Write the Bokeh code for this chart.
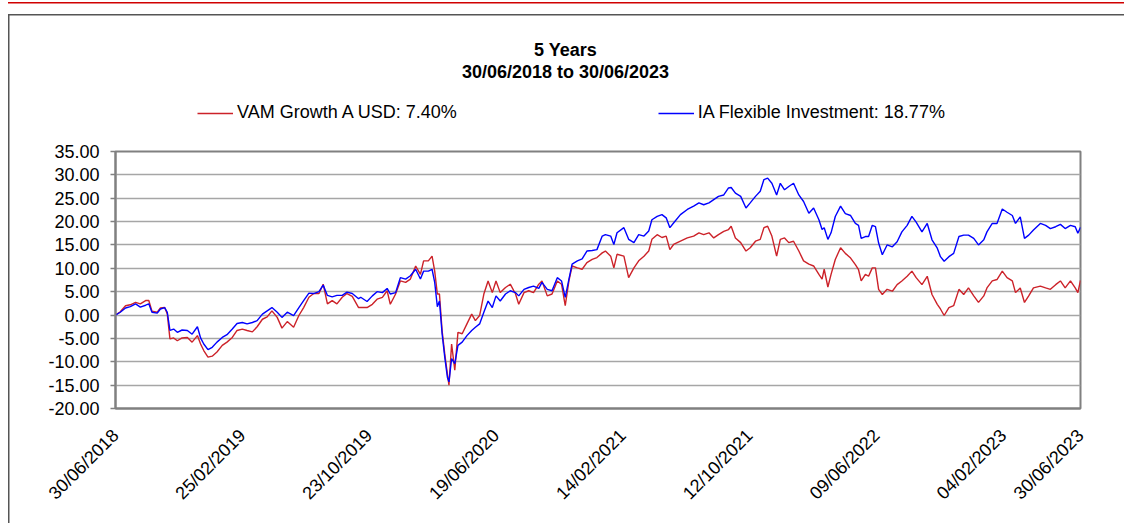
import math
import pandas as pd
from bokeh.plotting import figure
from bokeh.layouts import column
from bokeh.models import (Range1d, FixedTicker, DatetimeTickFormatter, PrintfTickFormatter,
                          Label, Legend, LegendItem, ColumnDataSource)
from bokeh.embed import file_html
from bokeh.resources import INLINE

# ---------------- data ----------------
start_date = "2018-06-30"
days = [0, 9, 19, 28, 38, 47, 57, 63, 69, 79, 85, 93, 98, 103, 110, 117, 126, 136, 145, 155,
        161, 167, 175, 183, 192, 202, 211, 221, 230, 240, 249, 259, 268, 278, 287, 296, 306, 315,
        325, 337, 347, 356, 366, 375, 385, 393, 401, 410, 419, 429, 438, 448, 460,
        464, 476, 486, 495, 505, 514, 520, 530, 539, 549, 558, 568, 577, 583, 592, 599, 604, 609,
        613, 618, 623, 628, 631, 636, 642, 648, 656, 665, 674, 681, 689, 697, 705, 713, 720, 728,
        738, 747, 757, 763, 773, 782, 791, 801, 807, 817, 826, 836, 844, 851, 858, 864, 874, 883,
        892, 902, 911, 921,
        927, 937, 943, 949, 962, 971, 981, 990, 1000, 1009, 1015, 1025, 1034, 1042, 1049, 1056,
        1069, 1082, 1094, 1104, 1113, 1123, 1132, 1141, 1151, 1160, 1165, 1173, 1183, 1193, 1201,
        1211, 1220, 1227, 1234, 1242, 1251, 1258, 1266, 1274, 1283, 1293, 1302, 1312, 1321, 1331,
        1337, 1341, 1348, 1354, 1362, 1372,
        1381, 1391, 1400, 1406, 1411, 1419, 1425, 1432, 1438, 1444, 1451, 1460, 1470, 1479, 1488,
        1498, 1507, 1515, 1526, 1536, 1545, 1555, 1561, 1568, 1577, 1586, 1596, 1605, 1614, 1624,
        1633, 1643, 1649, 1659, 1668, 1678, 1687, 1697, 1703, 1712, 1720, 1728, 1737, 1750, 1760,
        1769, 1779, 1788, 1797, 1807, 1816, 1821, 1826]

vam_growth = [0.0, 0.7, 2.0, 2.2, 2.7, 2.4, 3.1, 3.1, 0.8, 0.6, 1.5, 1.6, 0.2, -5.1, -4.9, -5.5,
              -4.9, -4.8, -5.8, -4.4, -6.2, -7.6, -9.0, -8.8, -7.9, -6.5, -5.8, -4.8, -3.3, -3.0,
              -3.3, -3.6, -2.5, -0.9, -0.4, 0.9, -0.5, -2.8, -1.4, -2.6, -0.1, 1.6, 3.8, 4.6, 4.6,
              6.6, 2.4, 3.1, 2.4, 3.8, 4.6, 4.0, 1.6,
              1.6, 1.6, 2.3, 3.4, 3.8, 5.2, 2.3, 4.5, 7.3, 7.0, 7.7, 10.5, 8.7, 11.6, 11.6, 12.6,
              9.4, 4.5, 4.5, -3.3, -8.3, -12.6, -15.0, -6.2, -11.8, -3.7, -4.0, -1.9, 0.2, -1.2,
              -0.1, 4.5, 7.3, 4.8, 7.3, 4.8, 5.9, 6.6, 4.5, 2.3, 4.8, 5.2, 4.8, 6.6, 7.3, 4.1, 4.5,
              7.3, 6.6, 2.0, 7.3, 10.5, 10.1, 9.8, 11.2, 11.9, 12.3, 13.3,
              13.7, 12.6, 10.1, 13.0, 12.6, 8.0, 10.1, 11.6, 12.6, 13.7, 16.2, 17.2, 16.6, 16.9,
              14.0, 15.1, 15.8, 16.5, 16.9, 17.6, 17.2, 17.6, 16.5, 17.2, 17.9, 18.3, 19.0, 16.5,
              15.5, 13.7, 14.4, 15.8, 16.2, 18.7, 19.0, 16.9, 12.6, 16.2, 16.5, 15.5, 15.8, 13.7,
              11.6, 10.9, 10.5, 8.7, 7.7, 9.8, 6.0, 8.7, 11.9, 14.4,
              13.2, 12.2, 10.8, 9.7, 7.3, 8.7, 8.3, 10.1, 10.1, 5.5, 4.4, 5.5, 5.1, 6.5, 7.3, 8.3,
              9.4, 8.0, 6.5, 8.3, 4.4, 2.3, 1.3, -0.1, 1.6, 2.0, 5.5, 4.4, 5.8, 4.1, 2.7, 4.1, 5.8,
              7.3, 7.6, 9.4, 8.0, 7.3, 4.8, 5.8, 2.7, 4.1, 5.8, 6.2, 5.8, 5.5, 6.5, 7.3, 5.8, 7.3,
              5.8, 4.8, 7.40]

ia_flexible = [0.0, 0.6, 1.5, 1.8, 2.4, 1.7, 2.1, 2.4, 0.6, 0.4, 1.3, 1.6, 0.6, -3.3, -3.0, -3.7,
               -3.2, -3.3, -4.1, -2.5, -4.9, -6.2, -7.4, -6.9, -5.8, -4.8, -4.2, -3.0, -1.8, -1.6,
               -1.9, -1.6, -1.2, 0.2, 0.9, 1.6, 0.6, -0.5, 0.6, -0.1, 1.6, 3.1, 4.7, 4.6, 5.0, 6.4,
               4.2, 3.9, 4.2, 4.2, 4.9, 4.6, 3.5,
               3.8, 2.9, 4.1, 5.0, 4.8, 5.7, 4.5, 4.8, 8.0, 7.7, 8.4, 9.8, 7.7, 9.4, 9.4, 9.8, 7.0,
               1.8, 3.0, -4.0, -9.0, -13.3, -14.3, -9.3, -10.4, -6.5, -5.8, -4.4, -3.3, -2.6, -1.9,
               0.6, 3.0, 1.6, 4.1, 3.0, 4.5, 5.2, 4.8, 4.1, 5.5, 5.9, 6.2, 5.7, 7.0, 5.5, 5.2, 8.0,
               7.3, 3.8, 7.7, 10.9, 11.6, 12.0, 13.7, 13.8, 14.0, 16.9,
               17.2, 16.9, 15.1, 17.6, 18.7, 16.2, 15.5, 17.2, 16.9, 18.0, 20.4, 21.1, 21.5, 20.8,
               18.7, 19.7, 21.5, 22.6, 23.3, 24.0, 23.6, 24.0, 24.7, 25.4, 25.7, 27.2, 27.3, 26.1,
               25.4, 22.9, 24.0, 25.4, 26.5, 29.0, 29.3, 28.2, 25.7, 28.2, 26.8, 27.5, 28.2, 25.7,
               24.3, 21.8, 22.9, 20.4, 18.3, 18.7, 16.2, 17.6, 21.1, 23.3,
               21.7, 21.3, 19.6, 19.2, 16.4, 16.8, 16.8, 19.2, 18.9, 15.4, 12.9, 15.0, 14.6, 15.7,
               17.8, 19.2, 21.1, 19.9, 17.8, 19.6, 16.1, 14.3, 12.5, 11.5, 12.5, 13.2, 16.8, 17.1,
               17.1, 16.4, 15.0, 16.1, 17.8, 19.6, 19.6, 22.7, 22.0, 21.3, 19.6, 21.0, 16.4, 17.1,
               18.2, 19.6, 19.2, 18.5, 18.9, 19.4, 18.5, 19.2, 18.9, 17.5, 18.77]

x_tick_dates = ["2018-06-30", "2019-02-25", "2019-10-23", "2020-06-19", "2021-02-14",
                "2021-10-12", "2022-06-09", "2023-02-04", "2023-06-30"]
y_ticks = [-20, -15, -10, -5, 0, 5, 10, 15, 20, 25, 30, 35]

title_line1 = "5 Years"
title_line2 = "30/06/2018 to 30/06/2023"
series_names = ["VAM Growth A USD: 7.40%", "IA Flexible Investment: 18.77%"]

# ---------------- styling constants ----------------
FONT = "Liberation Sans"
RED = "#CC2229"
BLUE = "#0000FF"
W, H_HEAD, H_MAIN = 1124, 143, 380
LEFT, RIGHT = 115, 44

# ---------------- header (titles + legend) ----------------
head = figure(width=W, height=H_HEAD, x_range=Range1d(LEFT, W - RIGHT),
              y_range=Range1d(H_HEAD, 0),
              output_backend="svg", toolbar_location=None,
              min_border_left=LEFT, min_border_right=RIGHT, min_border_top=0, min_border_bottom=0,
              x_axis_location=None, y_axis_location=None,
              background_fill_color=None, border_fill_color=None, outline_line_color=None)
head.title.visible = False
head.grid.visible = False

for txt, ty in ((title_line1, 49), (title_line2, 71)):
    head.add_layout(Label(x=565, y=ty, text=txt, text_align="center", text_baseline="middle",
                          text_font=FONT, text_font_size="18px", text_font_style="bold",
                          text_color="black"))

# legend-only renderers (a single empty point, nothing visible is drawn)
k_vam = head.line(x=[float("nan")], y=[float("nan")], line_color=RED, line_width=1.5)
k_ia = head.line(x=[float("nan")], y=[float("nan")], line_color=BLUE, line_width=1.5)
legend = Legend(items=[LegendItem(label=series_names[0], renderers=[k_vam]),
                       LegendItem(label=series_names[1], renderers=[k_ia])],
                orientation="horizontal", location=(197 - LEFT, 20),
                glyph_width=36, glyph_height=20, label_height=20, label_standoff=4,
                spacing=201, padding=0, margin=0,
                label_text_font=FONT, label_text_font_size="18px", label_text_color="black",
                border_line_color=None, background_fill_alpha=0)
head.add_layout(legend)

# ---------------- main chart ----------------
dates = pd.to_datetime(start_date) + pd.to_timedelta(days, unit="D")
src = ColumnDataSource(dict(date=dates, vam=vam_growth, ia=ia_flexible))

x0 = pd.Timestamp(x_tick_dates[0])
x1 = pd.Timestamp(x_tick_dates[-1])

p = figure(width=W, height=H_MAIN, x_axis_type="datetime",
           x_range=Range1d(x0, x1), y_range=Range1d(-20, 35),
           output_backend="svg", toolbar_location=None,
           min_border_left=LEFT, min_border_right=RIGHT, min_border_top=8, min_border_bottom=115,
           background_fill_color="white", border_fill_color=None)
p.title.visible = False

p.line("date", "vam", source=src, line_color=RED, line_width=1.4)
p.line("date", "ia", source=src, line_color=BLUE, line_width=1.4)

tick_ms = [pd.Timestamp(d).value // 10**6 for d in x_tick_dates]
p.xaxis.ticker = FixedTicker(ticks=tick_ms)
fmt = "%d/%m/%Y"
p.xaxis.formatter = DatetimeTickFormatter(microseconds=fmt, milliseconds=fmt, seconds=fmt,
                                          minsec=fmt, minutes=fmt, hourmin=fmt, hours=fmt,
                                          days=fmt, months=fmt, years=fmt)
p.xaxis.major_label_orientation = math.pi / 4
p.xaxis.major_tick_out = 0
p.xaxis.major_tick_in = 0
p.xaxis.minor_tick_out = 0
p.xaxis.minor_tick_in = 0
p.xaxis.major_label_standoff = 24

p.yaxis.ticker = FixedTicker(ticks=y_ticks)
p.yaxis.formatter = PrintfTickFormatter(format="%.2f")
p.yaxis.major_tick_out = 5
p.yaxis.major_tick_in = 0
p.yaxis.minor_tick_out = 0
p.yaxis.minor_tick_in = 0
p.yaxis.major_label_standoff = 11

for ax in (p.xaxis, p.yaxis):
    ax.axis_line_color = "#808080"
    ax.axis_line_width = 2
    ax.major_tick_line_color = "#808080"
    ax.major_tick_line_width = 1.5
    ax.major_label_text_font = FONT
    ax.major_label_text_font_size = "18px"
    ax.major_label_text_color = "black"

p.xgrid.grid_line_color = None
p.ygrid.grid_line_color = "#A6A6A6"
p.ygrid.grid_line_width = 1.5
p.outline_line_color = "#808080"
p.outline_line_width = 2

layout = column(head, p, spacing=0)
# page decoration: red rule at the top and the thin grey box around the chart
layout.styles = {
    "background-color": "white",
    "box-shadow": ("inset 0 2px 0 0 #ffffff, inset 8px 0 0 0 #ffffff, "
                   "inset 0 3.5px 0 0 #D00000, inset 0 14px 0 0 #ffffff, "
                   "inset 0 15.5px 0 0 #555555, inset 9.5px 0 0 0 #555555"),
}

open("out.html", "w").write(file_html(layout, INLINE))
